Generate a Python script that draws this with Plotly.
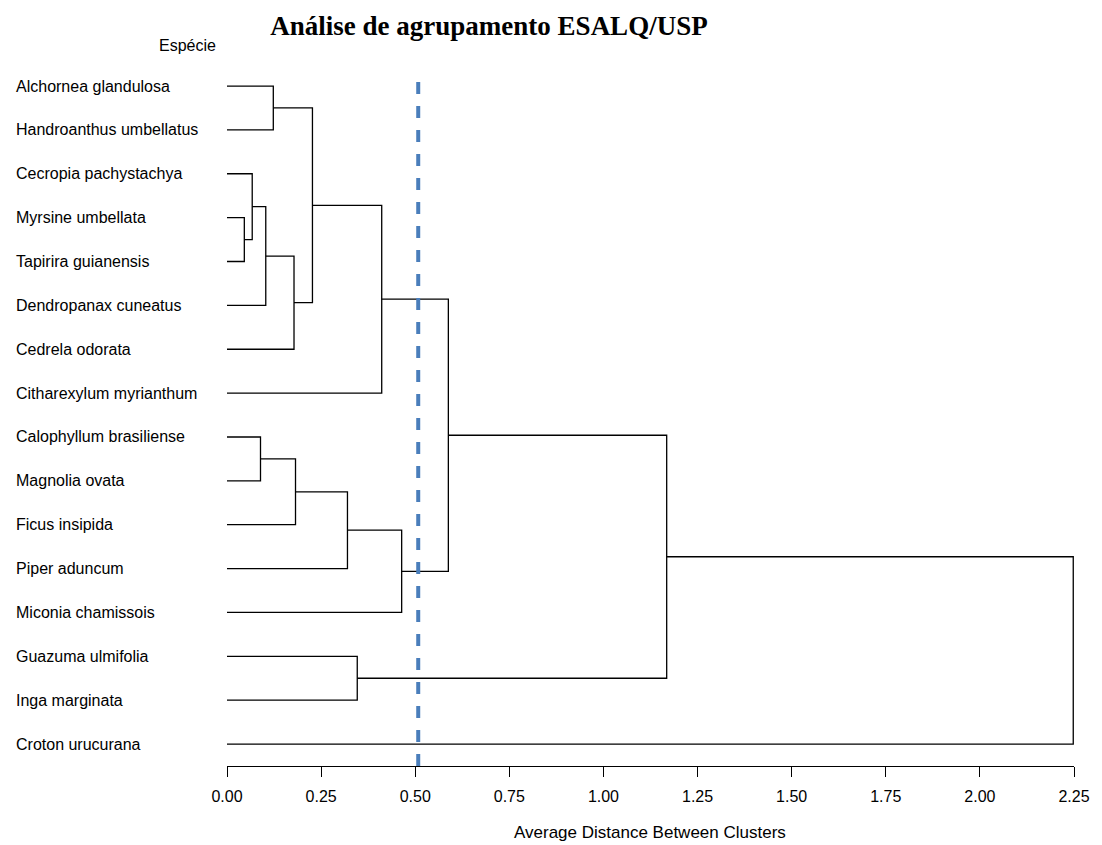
import plotly.graph_objects as go

# ---- data ----
leaves = [
    "Alchornea glandulosa", "Handroanthus umbellatus", "Cecropia pachystachya",
    "Myrsine umbellata", "Tapirira guianensis", "Dendropanax cuneatus",
    "Cedrela odorata", "Citharexylum myrianthum", "Calophyllum brasiliense",
    "Magnolia ovata", "Ficus insipida", "Piper aduncum", "Miconia chamissois",
    "Guazuma ulmifolia", "Inga marginata", "Croton urucurana",
]
# merges: new cluster ids start at len(leaves)
merge_left = [3, 2, 17, 0, 18, 19, 21, 8, 23, 24, 25, 22, 13, 27, 29]
merge_right = [4, 16, 5, 1, 6, 20, 7, 9, 10, 11, 12, 26, 14, 28, 15]
merge_height = [0.046, 0.067, 0.103, 0.123, 0.178, 0.227, 0.411, 0.089,
                0.182, 0.320, 0.464, 0.588, 0.346, 1.168, 2.248]
cut_distance = 0.508
x_ticks = [0.0, 0.25, 0.5, 0.75, 1.0, 1.25, 1.5, 1.75, 2.0, 2.25]
x_tick_labels = ["0.00", "0.25", "0.50", "0.75", "1.00", "1.25", "1.50", "1.75", "2.00", "2.25"]

# ---- compute dendrogram geometry ----
n = len(leaves)
pos_y = {i: float(i) for i in range(n)}
pos_x = {i: 0.0 for i in range(n)}
xs, ys = [], []
for k, (a, b, h) in enumerate(zip(merge_left, merge_right, merge_height)):
    cid = n + k
    xs += [pos_x[a], h, h, pos_x[b], None]
    ys += [pos_y[a], pos_y[a], pos_y[b], pos_y[b], None]
    pos_x[cid] = h
    pos_y[cid] = (pos_y[a] + pos_y[b]) / 2

Y_RANGE = [15.5, -0.32]

fig = go.Figure()
fig.add_trace(go.Scatter(x=xs, y=ys, mode="lines",
                         line=dict(color="black", width=1.3),
                         hoverinfo="skip", showlegend=False))
fig.add_trace(go.Scatter(x=[cut_distance, cut_distance], y=Y_RANGE, mode="lines",
                         line=dict(color="#4a7ebb", width=4, dash="dash"),
                         hoverinfo="skip", showlegend=False))

OFF = 8  # page body margin
W, H = 1102 - OFF, 845 - OFF
L, R, T, B = 227 - OFF, 28, 72 - OFF, 79
plot_w = W - L - R
plot_h = H - T - B

LABEL_FONT = dict(family="Liberation Sans, Arial", size=16, color="black")

annotations = []
for i, name in enumerate(leaves):
    annotations.append(dict(
        x=(14 - OFF - L) / plot_w, xref="paper", y=i, yref="y",
        text=name, showarrow=False, xanchor="left", yanchor="middle",
        font=LABEL_FONT))
annotations.append(dict(
    x=(187 - OFF - L) / plot_w, xref="paper", y=1 + (72 - 45) / plot_h,
    yref="paper", text="Espécie", showarrow=False, xanchor="center", yanchor="middle",
    font=LABEL_FONT))
annotations.append(dict(
    x=(650 - 227) / plot_w, xref="paper", y=-(832 - 766) / plot_h, yref="paper",
    text="Average Distance Between Clusters", showarrow=False,
    xanchor="center", yanchor="middle",
    font=dict(family="Liberation Sans, Arial", size=17, color="black")))

fig.update_layout(
    width=W, height=H,
    margin=dict(l=L, r=R, t=T, b=B),
    paper_bgcolor="white", plot_bgcolor="white",
    title=dict(text="<b>Análise de agrupamento ESALQ/USP</b>",
               x=(489 - OFF) / W, xanchor="center", y=1 - (26 - OFF) / H, yanchor="middle",
               font=dict(family="Liberation Serif, Times New Roman", size=27, color="black")),
    xaxis=dict(range=[0, 2.25], tickvals=x_ticks, ticktext=x_tick_labels,
               showgrid=False, zeroline=False, showline=True, linecolor="black",
               linewidth=1.3, ticks="outside", ticklen=10, tickcolor="black",
               tickwidth=1.3, ticklabelstandoff=6,
               tickfont=dict(family="Liberation Sans, Arial", size=16, color="black")),
    yaxis=dict(range=Y_RANGE, showgrid=False, zeroline=False,
               showticklabels=False, showline=False),
    annotations=annotations,
)
fig.write_html("out.html")
